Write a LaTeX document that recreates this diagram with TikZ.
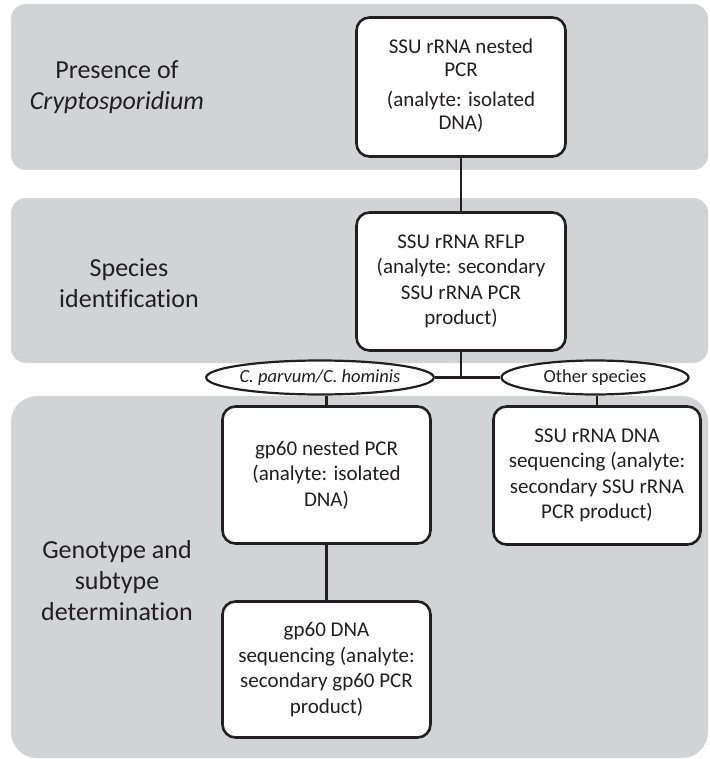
\documentclass[tikz,border=0pt]{standalone}
\usepackage{fontspec}
\setmainfont{Carlito}[Ligatures=NoCommon]
\usetikzlibrary{shapes.geometric}
\definecolor{band}{RGB}{209,211,212}
\definecolor{ink}{RGB}{35,31,32}
\begin{document}
\begin{tikzpicture}[x=1pt,y=-1pt,
  bandfill/.style={fill=band, draw=none},
  procbox/.style={draw=ink, line width=2.6pt, fill=white, rounded corners=13pt,
    inner sep=0pt, align=center, text=ink, font=\fontsize{21}{25.5}\selectfont},
  tag/.style={ellipse, draw=ink, line width=2.2pt, fill=white, inner sep=0pt,
    text=ink, font=\fontsize{18.5}{22}\selectfont},
  level/.style={align=center, text=ink, inner sep=0pt, font=\fontsize{26}{31}\selectfont},
  conn/.style={draw=ink, line width=2.6pt}]
\useasboundingbox (0,0) rectangle (709,759);
% bands
\fill[bandfill, rounded corners=15pt] (11,4) rectangle (708,170);
\fill[bandfill, rounded corners=15pt] (11,198) rectangle (708,363);
\fill[bandfill, rounded corners=26pt] (11,396) rectangle (708,758);
% level labels
\node[level] (l1) at (117,87) {Presence of\\\textit{Cryptosporidium}};
\node[level] (l2) at (129,283) {Species\\identification};
\node[level] (l3) at (117,581) {Genotype and\\subtype\\determination};
% process boxes
\node[procbox, minimum width=209pt, minimum height=139pt] (b1) at (461,87)
  {\raisebox{4pt}{\fontsize{21}{23.5}\selectfont\begin{tabular}{@{}c@{}}SSU rRNA nested\\PCR\\[6pt](analyte: isolated\\DNA)\end{tabular}}};
\node[procbox, minimum width=209pt, minimum height=138pt] (b2) at (461,281.5)
  {SSU rRNA RFLP\\(analyte: secondary\\SSU rRNA PCR\\product)};
\node[procbox, minimum width=208pt, minimum height=137pt] (b3) at (326.5,475)
  {gp60 nested PCR\\(analyte: isolated\\DNA)};
\node[procbox, minimum width=207pt, minimum height=138pt] (b4) at (597,475.5)
  {SSU rRNA DNA\\sequencing (analyte:\\secondary SSU rRNA\\PCR product)};
\node[procbox, minimum width=208pt, minimum height=136pt] (b5) at (326.5,669.5)
  {gp60 DNA\\sequencing (analyte:\\secondary gp60 PCR\\product)};
% branch tags
\node[tag, minimum width=194pt, minimum height=34pt] (e1) at (320,377.5)
  {\itshape C. parvum/C. hominis};
\node[tag, minimum width=187pt, minimum height=34pt] (e2) at (595,377.5)
  {Other species};
\coordinate (j) at (461,377.5);
% connectors
\draw[conn] (b1.south) -- (b2.north);
\draw[conn] (b2.south) -- (j);
\draw[conn] (e1.east) -- (e2.west);
\draw[conn] (b3.north) -- (b3.north |- e1.south);
\draw[conn] (b4.north) -- (b4.north |- e2.south);
\draw[conn] (b3.south) -- (b5.north);
\end{tikzpicture}
\end{document}
